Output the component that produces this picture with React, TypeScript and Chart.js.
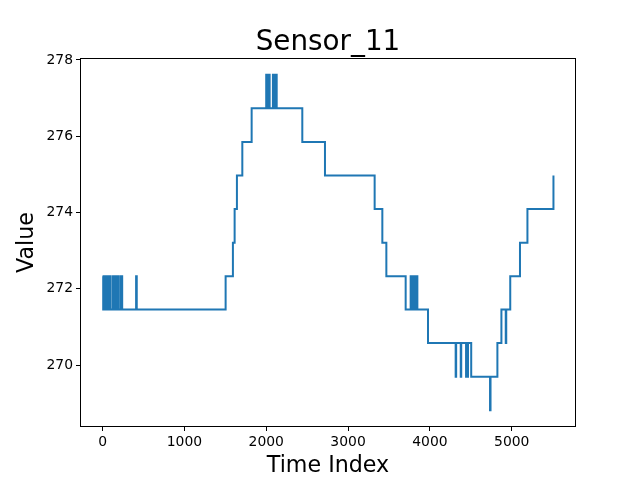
import React, { useEffect, useRef } from "react";
import { Chart, registerables } from "chart.js";

Chart.register(...registerables);

const TITLE = "Sensor_11";
const X_LABEL = "Time Index";
const Y_LABEL = "Value";
const X_TICKS = [0, 1000, 2000, 3000, 4000, 5000];
const Y_TICKS = [270, 272, 274, 276, 278];
const X_MIN = -275.5;
const X_MAX = 5785.5;
const Y_MIN = 268.38;
const Y_MAX = 278.05;

// Time index where the sensor value changes, and the value it takes from there on
const CHANGE_INDEX = [
  0, 8, 15, 22, 30, 38, 45, 52, 60, 68, 76, 84, 92, 100, 128, 134, 142, 150,
  158, 166, 170, 176, 192, 196, 222, 228, 234, 240, 410, 418,
  1504, 1593, 1614, 1642, 1708, 1822,
  2000, 2006, 2012, 2018, 2024, 2030, 2036, 2042,
  2082, 2090, 2096, 2104, 2110, 2118, 2122, 2128,
  2441, 2718, 3325, 3419, 3468, 3704,
  3765, 3771, 3786, 3792, 3798, 3806, 3812, 3820, 3826, 3834, 3840, 3847,
  3977, 4315, 4321, 4377, 4383, 4442, 4448, 4460, 4466, 4505,
  4735, 4741, 4825, 4874, 4927, 4933, 4982, 5101, 5192, 5510,
];
const CHANGE_VALUE = [
  272.33, 271.46, 272.33, 271.46, 272.33, 271.46, 272.33, 271.46, 272.33, 271.46, 272.33, 271.46, 272.33, 271.46, 272.33, 271.46, 272.33, 271.46,
  272.33, 271.46, 272.33, 271.46, 272.33, 271.46, 272.33, 271.46, 272.33, 271.46, 272.33, 271.46,
  272.33, 273.21, 274.09, 274.97, 275.85, 276.73,
  277.61, 276.73, 277.61, 276.73, 277.61, 276.73, 277.61, 276.73,
  277.61, 276.73, 277.61, 276.73, 277.61, 276.73, 277.61, 276.73,
  275.85, 274.97, 274.09, 273.21, 272.33, 271.46,
  272.33, 271.46, 272.33, 271.46, 272.33, 271.46, 272.33, 271.46, 272.33, 271.46, 272.33, 271.46,
  270.58, 269.7, 270.58, 269.7, 270.58, 269.7, 270.58, 269.7, 270.58, 269.7,
  268.82, 269.7, 270.58, 271.46, 270.58, 271.46, 272.33, 273.21, 274.09, 274.97,
];

const FONT = "'DejaVu Sans', sans-serif";

const framePlugin = {
  id: "frame",
  afterDraw(chart: any) {
    const { ctx, chartArea } = chart;
    ctx.save();
    ctx.strokeStyle = "#000";
    ctx.lineWidth = 1;
    const l = Math.round(chartArea.left) + 0.5;
    const t = Math.round(chartArea.top) + 0.5;
    const r = Math.round(chartArea.right) - 0.5;
    const b = Math.round(chartArea.bottom) - 0.5;
    ctx.strokeRect(l, t, r - l, b - t);
    // title centred over the plot area, baseline just above it
    ctx.fillStyle = "#000";
    ctx.font = `27.8px ${FONT}`;
    ctx.textAlign = "center";
    ctx.textBaseline = "alphabetic";
    ctx.fillText(TITLE, (chartArea.left + chartArea.right) / 2, chartArea.top - 8.3);
    ctx.restore();
  },
};

export default function App() {
  const canvasRef = useRef<HTMLCanvasElement | null>(null);

  useEffect(() => {
    if (!canvasRef.current) return;
    const points = CHANGE_INDEX.map((x, i) => ({ x, y: CHANGE_VALUE[i] }));
    const chart = new Chart(canvasRef.current, {
      type: "line",
      data: {
        datasets: [
          {
            data: points,
            borderColor: "#1f77b4",
            borderWidth: 2,
            pointRadius: 0,
            stepped: "before",
            fill: false,
          },
        ],
      },
      plugins: [framePlugin],
      options: {
        animation: false,
        responsive: false,
        devicePixelRatio: 1,
        layout: { padding: { left: 0, right: 64, top: 58, bottom: 0 } },
        plugins: {
          legend: { display: false },
          tooltip: { enabled: false },
          title: { display: false },
        },
        scales: {
          x: {
            type: "linear",
            min: X_MIN,
            max: X_MAX,
            afterFit: (scale: any) => {
              scale.height = 53;
            },
            afterBuildTicks: (scale: any) => {
              scale.ticks = X_TICKS.map((v) => ({ value: v }));
            },
            ticks: {
              color: "#000",
              font: { family: FONT, size: 13.9 },
              padding: 3,
              maxRotation: 0,
              callback: (v: any) => String(v),
            },
            grid: {
              drawOnChartArea: false,
              drawTicks: true,
              tickLength: 4,
              color: "#000",
            },
            border: { display: false },
            title: {
              display: true,
              text: X_LABEL,
              color: "#000",
              font: { family: FONT, size: 22.2, lineHeight: 1.2 },
              padding: { top: 0, bottom: 0 },
            },
          },
          y: {
            type: "linear",
            min: Y_MIN,
            max: Y_MAX,
            afterFit: (scale: any) => {
              scale.width = 80;
            },
            afterBuildTicks: (scale: any) => {
              scale.ticks = Y_TICKS.map((v) => ({ value: v }));
            },
            ticks: {
              color: "#000",
              font: { family: FONT, size: 13.9 },
              padding: 3,
              callback: (v: any) => String(v),
            },
            grid: {
              drawOnChartArea: false,
              drawTicks: true,
              tickLength: 4,
              color: "#000",
            },
            border: { display: false },
            title: {
              display: true,
              text: Y_LABEL,
              color: "#000",
              font: { family: FONT, size: 22.2, lineHeight: 1.2 },
              padding: { top: 13.5, bottom: 0 },
            },
          },
        },
      },
    } as any);
    return () => chart.destroy();
  }, []);

  return (
    <div style={{ position: "fixed", left: 0, top: 0, width: 640, height: 480, background: "#fff" }}>
      <canvas ref={canvasRef} width={640} height={480} style={{ display: "block", width: 640, height: 480 }} />
    </div>
  );
}
